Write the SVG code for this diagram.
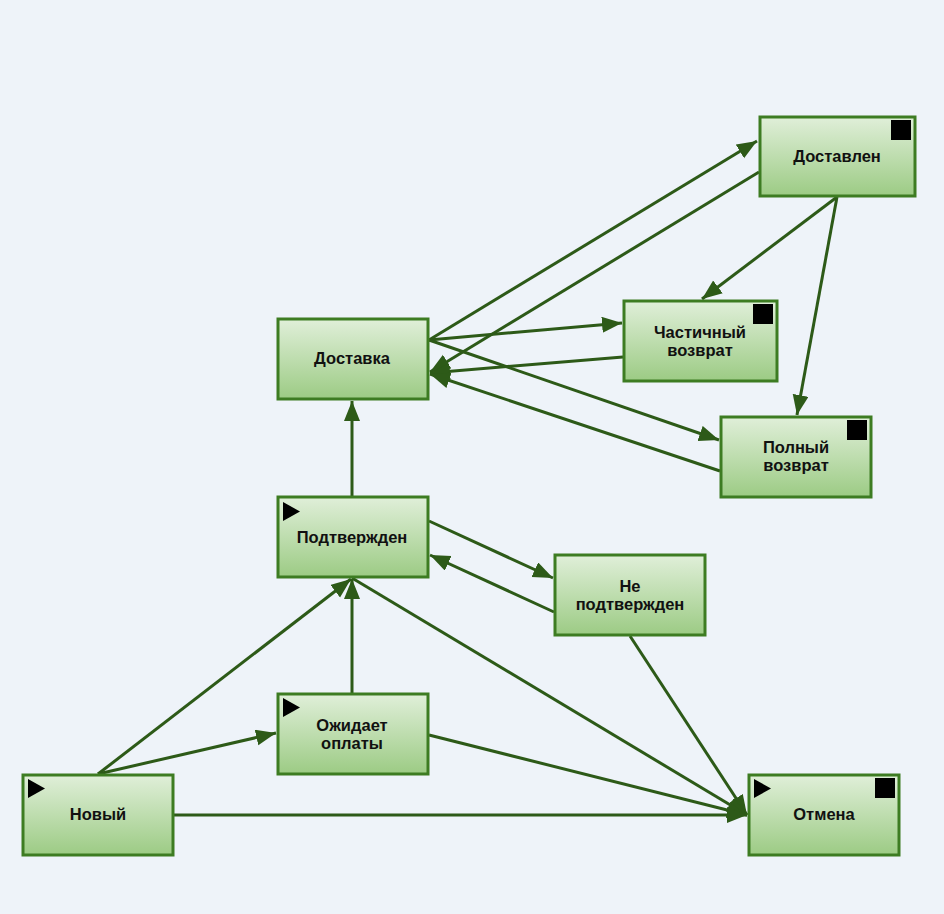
<svg xmlns="http://www.w3.org/2000/svg" width="944" height="914" viewBox="0 0 944 914">
<defs>
<linearGradient id="g" x1="0" y1="0" x2="0" y2="1">
<stop offset="0" stop-color="#e0efd9"/>
<stop offset="1" stop-color="#9ccb84"/>
</linearGradient>
<marker id="a" markerUnits="userSpaceOnUse" markerWidth="22" markerHeight="18" refX="20" refY="8" orient="auto">
<path d="M0,0 L20,8 L0,16 Z" fill="#2d5a18"/>
</marker>
<path id="tri" d="M0,0 L17,9.5 L0,19 Z" fill="#000"/>
<rect id="sq" width="20" height="20" fill="#000"/>
</defs>
<style>
.n{fill:url(#g);stroke:#3d7c22;stroke-width:3}
.t{font-family:"Liberation Sans",Arial,sans-serif;font-size:16.5px;font-weight:bold;fill:#111;text-anchor:middle}
.e{stroke:#2d5a18;stroke-width:3;fill:none;marker-end:url(#a)}
</style>
<rect width="944" height="914" fill="#eef3f9"/>
<g id="connectors">
<line class="e" x1="429" y1="340" x2="757" y2="141"/>
<line class="e" x1="759" y1="172" x2="430" y2="372"/>
<line class="e" x1="429" y1="340" x2="622" y2="323"/>
<line class="e" x1="623" y1="357" x2="430" y2="373"/>
<line class="e" x1="429" y1="340" x2="719" y2="440"/>
<line class="e" x1="720" y1="471" x2="430" y2="374"/>
<line class="e" x1="837" y1="197" x2="702" y2="299"/>
<line class="e" x1="837" y1="197" x2="797" y2="415"/>
<line class="e" x1="352" y1="496" x2="352" y2="401"/>
<line class="e" x1="429" y1="521" x2="553" y2="578"/>
<line class="e" x1="554" y1="612" x2="430" y2="555"/>
<line class="e" x1="630" y1="636" x2="747" y2="815"/>
<line class="e" x1="352" y1="578" x2="747" y2="815"/>
<line class="e" x1="352" y1="693" x2="352" y2="579"/>
<line class="e" x1="98" y1="774" x2="351" y2="579"/>
<line class="e" x1="98" y1="774" x2="276" y2="733"/>
<line class="e" x1="429" y1="735" x2="747" y2="815"/>
<line class="e" x1="174" y1="815" x2="747" y2="815"/>
</g>
<g id="n-dostavlen">
<rect class="n" x="760" y="117" width="155" height="79"/>
<use href="#sq" x="891" y="120"/>
<text class="t" x="837" y="162">Доставлен</text>
</g>
<g id="n-dostavka">
<rect class="n" x="278" y="319" width="150" height="80"/>
<text class="t" x="352" y="364">Доставка</text>
</g>
<g id="n-chastichny">
<rect class="n" x="624" y="301" width="153" height="80"/>
<use href="#sq" x="753" y="304"/>
<text class="t" x="700" y="338">Частичный</text>
<text class="t" x="700" y="356">возврат</text>
</g>
<g id="n-polny">
<rect class="n" x="721" y="417" width="150" height="80"/>
<use href="#sq" x="847" y="420"/>
<text class="t" x="796" y="453">Полный</text>
<text class="t" x="796" y="471">возврат</text>
</g>
<g id="n-podtverzhden">
<rect class="n" x="278" y="497" width="150" height="80"/>
<use href="#tri" x="283" y="502"/>
<text class="t" x="352" y="543">Подтвержден</text>
</g>
<g id="n-ne-podtverzhden">
<rect class="n" x="555" y="555" width="150" height="80"/>
<text class="t" x="630" y="592">Не</text>
<text class="t" x="630" y="610">подтвержден</text>
</g>
<g id="n-ozhidaet">
<rect class="n" x="278" y="694" width="150" height="80"/>
<use href="#tri" x="283" y="698"/>
<text class="t" x="352" y="731">Ожидает</text>
<text class="t" x="352" y="749">оплаты</text>
</g>
<g id="n-novy">
<rect class="n" x="23" y="775" width="150" height="80"/>
<use href="#tri" x="28" y="779"/>
<text class="t" x="98" y="820">Новый</text>
</g>
<g id="n-otmena">
<rect class="n" x="749" y="775" width="150" height="80"/>
<use href="#tri" x="754" y="779"/>
<use href="#sq" x="875" y="778"/>
<text class="t" x="824" y="820">Отмена</text>
</g>
</svg>
